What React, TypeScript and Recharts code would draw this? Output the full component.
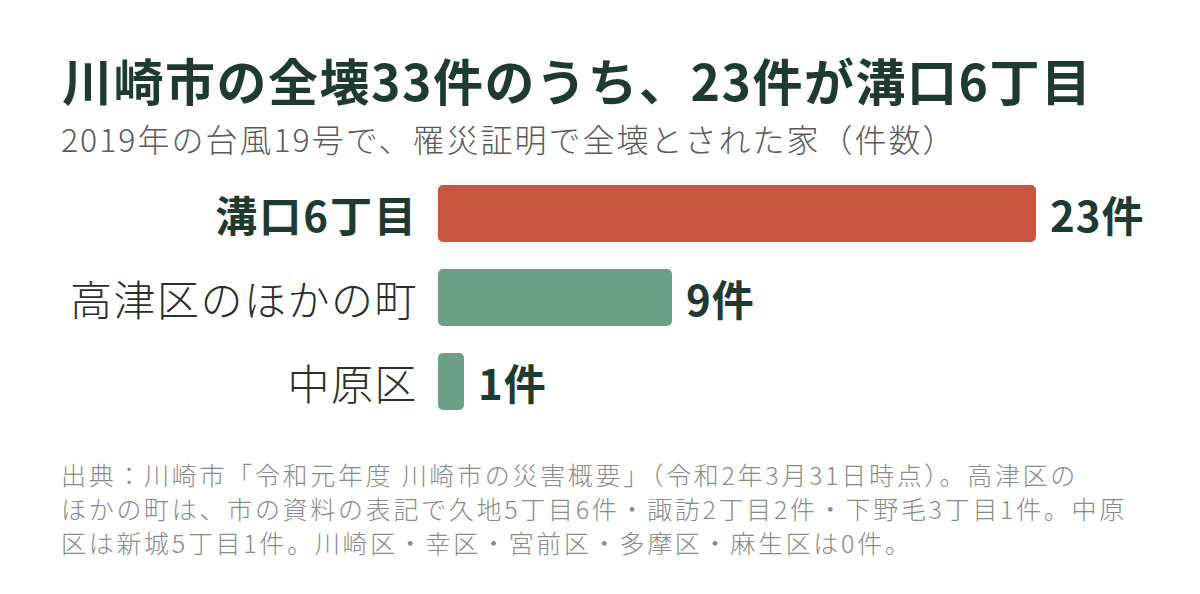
import {BarChart, Bar, XAxis, YAxis, Cell, LabelList} from "recharts";

const FONT = "'Noto Sans CJK JP', sans-serif";
const DARK = "#1f3a30";

const areas = ["溝口6丁目", "高津区のほかの町", "中原区"];
const counts = [23, 9, 1];
const barColors = ["#c8553d", "#6c9f87", "#6c9f87"];

const noteLines = [
  "出典：川崎市「令和元年度 川崎市の災害概要」（令和2年3月31日時点）。高津区の",
  "ほかの町は、市の資料の表記で久地5丁目6件・諏訪2丁目2件・下野毛3丁目1件。中原",
  "区は新城5丁目1件。川崎区・幸区・宮前区・多摩区・麻生区は0件。",
];

const data = areas.map((name, i) => ({name, value: counts[i]}));

function AreaTick(props: any) {
  const {y, payload, index} = props;
  const bold = index === 0;
  return (
    <text
      x={418}
      y={y}
      textAnchor="end"
      dominantBaseline="central"
      fontFamily={FONT}
      fontSize={42}
      letterSpacing={bold ? 2 : 1.5}
      fontWeight={bold ? 700 : 300}
      fill={bold ? DARK : "#2a2f2c"}
    >
      {payload.value}
    </text>
  );
}

function CountLabel(props: any) {
  const {x, y, width, height, value} = props;
  return (
    <text
      x={x + width + 14}
      y={y + height / 2}
      dominantBaseline="central"
      fontFamily={FONT}
      fontSize={42}
      fontWeight={700}
      letterSpacing={1}
      fill={DARK}
    >
      {value}件
    </text>
  );
}

export default function App() {
  return (
    <div
      style={{
        position: "absolute",
        top: 0,
        left: 0,
        width: 1200,
        height: 594,
        background: "#fff",
        fontFamily: FONT,
        overflow: "hidden",
      }}
    >
      <div
        style={{
          position: "absolute",
          left: 62,
          top: 46,
          fontSize: 50,
          lineHeight: "66px",
          fontWeight: 700,
          letterSpacing: 1.5,
          color: DARK,
          whiteSpace: "nowrap",
        }}
      >
        川崎市の全壊33件のうち、23件が溝口6丁目
      </div>
      <div
        style={{
          position: "absolute",
          left: 61,
          top: 117,
          fontSize: 32,
          lineHeight: "42px",
          fontWeight: 300,
          letterSpacing: 2,
          color: "#5a5a5a",
          whiteSpace: "nowrap",
        }}
      >
        2019年の台風19号で、罹災証明で全壊とされた家（件数）
      </div>

      <div style={{position: "absolute", left: 0, top: 171}}>
        <BarChart
          width={1200}
          height={252}
          data={data}
          layout="vertical"
          margin={{top: 0, right: 164, bottom: 0, left: 0}}
        >
          <XAxis type="number" domain={[0, 23]} hide />
          <YAxis
            type="category"
            dataKey="name"
            width={438}
            axisLine={false}
            tickLine={false}
            tick={<AreaTick />}
          />
          <Bar dataKey="value" barSize={57} radius={5} isAnimationActive={false}>
            {data.map((d, i) => (
              <Cell key={d.name} fill={barColors[i]} />
            ))}
            <LabelList dataKey="value" content={<CountLabel />} />
          </Bar>
        </BarChart>
      </div>

      <div
        style={{
          position: "absolute",
          left: 61,
          top: 457,
          fontSize: 25,
          lineHeight: "34px",
          fontWeight: 300,
          letterSpacing: 2.7,
          color: "#8a8a8a",
          whiteSpace: "nowrap",
        }}
      >
        {noteLines.map((line) => (
          <div key={line}>{line}</div>
        ))}
      </div>
    </div>
  );
}
